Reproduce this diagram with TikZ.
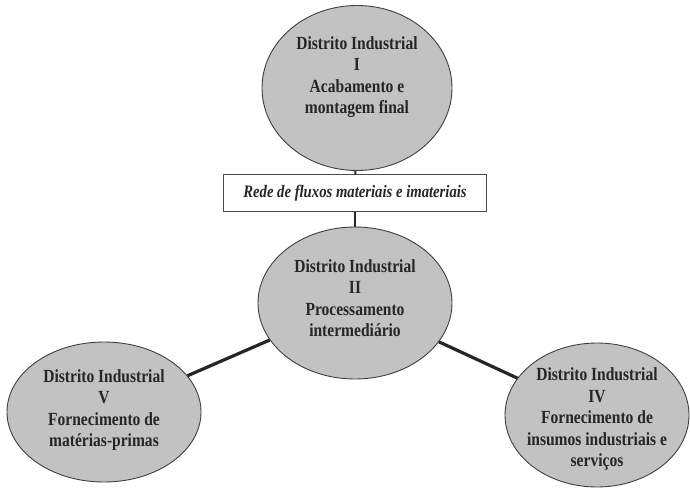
\documentclass[tikz,border=0pt]{standalone}
\usepackage{fontspec}
\usetikzlibrary{shapes.geometric}
\setmainfont{Liberation Serif}
\newfontfamily\condfont[FakeStretch=0.84]{Liberation Serif}

\tikzset{
    distrito/.style={ellipse, draw=black!75, line width=0.9pt, fill=black!24,
        inner sep=0pt},
    legenda/.style={align=center, text=black!85, inner sep=0pt,
        font=\condfont\bfseries\fontsize{18.5}{21.5}\selectfont},
    rede/.style={rectangle, draw=black!70, line width=0.9pt, fill=white,
        minimum width=263pt, minimum height=37pt, text=black!85,
        font=\condfont\bfseries\itshape\fontsize{17.5}{20}\selectfont},
    fluxo/.style={draw=black!85, line width=2pt},
    elo/.style={draw=black!85, line width=3.2pt}
}

\begin{document}
\begin{tikzpicture}[x=1pt, y=-1pt]
            \useasboundingbox (0, 0) rectangle (690, 489);

            \node[distrito, minimum width=190pt, minimum height=165pt] at (357, 88)  (d1)  {};
            \node[rede] at (355, 193)  (rd)  {Rede de fluxos materiais e imateriais};
            \node[distrito, minimum width=194pt, minimum height=152pt] at (355, 303)  (d2)  {};
            \node[distrito, minimum width=194pt, minimum height=140pt] at (104, 412)  (d5)  {};
            \node[distrito, minimum width=184pt, minimum height=144pt] at (597, 415)  (d4)  {};

            \node[legenda] at (357, 77)  (d1_txt)
                {Distrito Industrial\\I\\Acabamento e\\montagem final};
            \node[legenda] at (355, 298)  (d2_txt)
                {Distrito Industrial\\II\\Processamento\\intermediário};
            \node[legenda] at (104, 410)  (d5_txt)
                {Distrito Industrial\\V\\Fornecimento de\\matérias-primas};
            \node[legenda] at (597, 419)  (d4_txt)
                {Distrito Industrial\\IV\\Fornecimento de\\insumos industriais e\\serviços};

            \draw[fluxo] (d1) -- (rd);
            \draw[fluxo] (rd) -- (d2);

            \draw[elo] (d2) -- (d5);
            \draw[elo] (d2) -- (d4);
        \end{tikzpicture}
\end{document}
